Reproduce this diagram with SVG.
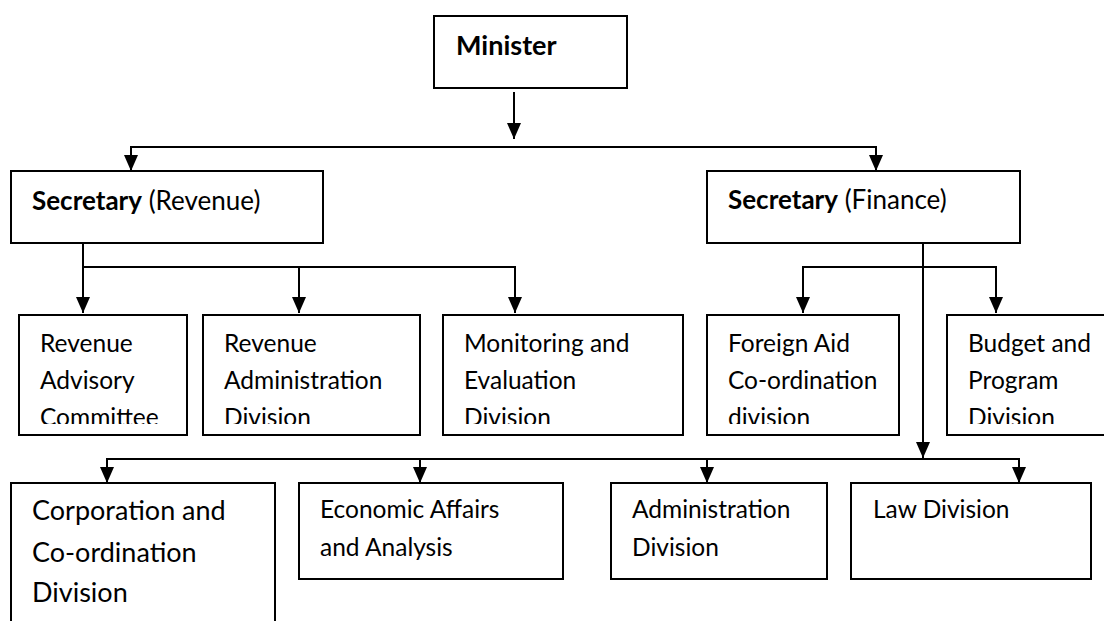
<svg xmlns="http://www.w3.org/2000/svg" width="1104" height="621" viewBox="0 0 1104 621">
<style>
.box{fill:#fff;stroke:#000;stroke-width:2}
.con{fill:none;stroke:#000;stroke-width:2;marker-end:url(#ah)}
text{font-family:Lato,"Liberation Sans",sans-serif;fill:#000}
.t{font-size:24.5px}
.ts{font-size:26px}
.tb{font-size:27px}
.b{font-weight:bold}
</style>
<defs>
<marker id="ah" markerUnits="userSpaceOnUse" markerWidth="16" markerHeight="14" refX="16" refY="7" orient="auto" viewBox="0 0 16 14">
<path d="M0,0 L16,7 L0,14 z" fill="#000"/>
</marker>
<clipPath id="clipRow2" clipPathUnits="userSpaceOnUse"><rect x="0" y="316" width="1104" height="108"/></clipPath>
</defs>
<rect width="1104" height="621" fill="#fff"/>
<g id="connectors">
<path class="con" d="M514,92 V139"/>
<path class="con" d="M514,147 H131 V171"/>
<path class="con" d="M514,147 H876 V171"/>
<path class="con" d="M83,243 V313"/>
<path class="con" d="M83,267 H515 V313"/>
<path class="con" d="M299,267 V313"/>
<path class="con" d="M923,243 V458"/>
<path class="con" d="M923,267 H803 V313"/>
<path class="con" d="M923,267 H996 V313"/>
<path class="con" d="M923,459 H107 V483"/>
<path class="con" d="M923,459 H1019 V483"/>
<path class="con" d="M420,459 V483"/>
<path class="con" d="M707,459 V483"/>
</g>
<g id="minister">
<rect class="box" x="434" y="16" width="193" height="72"/>
<text class="b" x="456" y="55" font-size="27">Minister</text>
</g>
<g id="secretary-revenue">
<rect class="box" x="11" y="171" width="312" height="72"/>
<text class="ts" x="32" y="210"><tspan class="b">Secretary</tspan> (Revenue)</text>
</g>
<g id="secretary-finance">
<rect class="box" x="707" y="171" width="313" height="72"/>
<text class="ts" x="728" y="209"><tspan class="b">Secretary</tspan> (Finance)</text>
</g>
<g id="revenue-advisory-committee">
<rect class="box" x="19" y="315" width="168" height="120"/>
<text class="t" clip-path="url(#clipRow2)"><tspan x="40" y="352">Revenue</tspan><tspan x="40" y="389">Advisory</tspan><tspan x="40" y="426">Committee</tspan></text>
</g>
<g id="revenue-administration-division">
<rect class="box" x="203" y="315" width="217" height="120"/>
<text class="t" clip-path="url(#clipRow2)"><tspan x="224" y="352">Revenue</tspan><tspan x="224" y="389">Administration</tspan><tspan x="224" y="426">Division</tspan></text>
</g>
<g id="monitoring-evaluation-division">
<rect class="box" x="443" y="315" width="240" height="120"/>
<text class="t" clip-path="url(#clipRow2)"><tspan x="464" y="352">Monitoring and</tspan><tspan x="464" y="389">Evaluation</tspan><tspan x="464" y="426">Division</tspan></text>
</g>
<g id="foreign-aid-division">
<rect class="box" x="707" y="315" width="192" height="120"/>
<text class="t" clip-path="url(#clipRow2)"><tspan x="728" y="352">Foreign Aid</tspan><tspan x="728" y="389">Co-ordination</tspan><tspan x="728" y="426">division</tspan></text>
</g>
<g id="budget-program-division">
<rect class="box" x="947" y="315" width="200" height="120"/>
<text class="t" clip-path="url(#clipRow2)"><tspan x="968" y="352">Budget and</tspan><tspan x="968" y="389">Program</tspan><tspan x="968" y="426">Division</tspan></text>
</g>
<g id="corporation-coordination-division">
<rect class="box" x="11" y="483" width="264" height="160"/>
<text class="tb"><tspan x="32" y="520">Corporation and</tspan><tspan x="32" y="562">Co-ordination</tspan><tspan x="32" y="602">Division</tspan></text>
</g>
<g id="economic-affairs-analysis">
<rect class="box" x="299" y="483" width="264" height="96"/>
<text class="t"><tspan x="320" y="518">Economic Affairs</tspan><tspan x="320" y="556">and Analysis</tspan></text>
</g>
<g id="administration-division">
<rect class="box" x="611" y="483" width="216" height="96"/>
<text class="t"><tspan x="632" y="518">Administration</tspan><tspan x="632" y="556">Division</tspan></text>
</g>
<g id="law-division">
<rect class="box" x="851" y="483" width="240" height="96"/>
<text class="t" x="873" y="518">Law Division</text>
</g>
</svg>
